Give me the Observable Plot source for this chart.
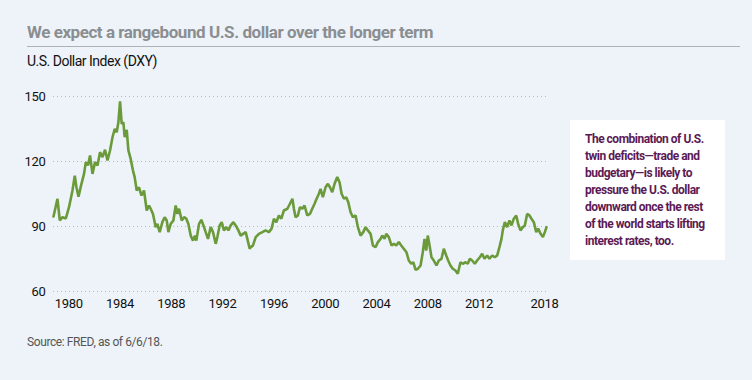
<!DOCTYPE html>
<html>
<head>
<meta charset="utf-8">
<script src="https://cdn.jsdelivr.net/npm/d3@7"></script>
<script src="https://cdn.jsdelivr.net/npm/@observablehq/plot@0.6"></script>
<style>
  html, body { margin: 0; padding: 0; }
  body { width: 752px; height: 380px; background: #edf3f9; position: relative; overflow: hidden;
         font-family: "Roboto", "Open Sans", sans-serif; }
  #title { position: absolute; left: 27px; top: 22px; font-size: 17px; font-weight: bold; color: #8b8e91; white-space: nowrap; letter-spacing: -0.45px; }
  #rule { position: absolute; left: 27px; top: 46px; width: 713px; height: 1px; background: #aeb2b6; }
  #subtitle { position: absolute; left: 27px; top: 53px; font-size: 14px; color: #111; white-space: nowrap; letter-spacing: -0.5px; }
  #chart { position: absolute; left: 0; top: 80px; }
  #note { position: absolute; left: 570px; top: 120px; width: 155px; height: 140px; background: #fff;
          box-sizing: border-box; padding: 11px 0 0 15px; color: #5c1a55; font-weight: bold; font-size: 12px; line-height: 17px; white-space: nowrap; letter-spacing: -0.5px; }
  #source { position: absolute; left: 27px; top: 335px; font-size: 12px; color: #555; white-space: nowrap; letter-spacing: -0.4px; }
</style>
</head>
<body>
<div id="title"></div>
<div id="rule"></div>
<div id="subtitle"></div>
<div id="chart"></div>
<div id="note"></div>
<div id="source"></div>
<script>
const titleText = "We expect a rangebound U.S. dollar over the longer term";
const subtitleText = "U.S. Dollar Index (DXY)";
const noteLines = ["The combination of U.S.", "twin deficits\u2014trade and", "budgetary\u2014is likely to", "pressure the U.S. dollar", "downward once the rest", "of the world starts lifting", "interest rates, too."];
const sourceText = "Source: FRED, as of 6/6/18.";

// Decimal year positions (as laid out on the reference axis) and index values
const years = [1978.81,1979.12,1979.30,1979.51,1979.77,1980.02,1980.29,1980.47,1980.60,1980.76,1980.99,1981.19,1981.33,1981.50,1981.66,1981.85,1982.05,1982.24,1982.44,1982.63,1982.83,1983.02,1983.22,1983.41,1983.59,1983.74,1983.87,1984.00,1984.13,1984.26,1984.36,1984.52,1984.65,1984.83,1985.01,1985.14,1985.30,1985.48,1985.67,1985.87,1986.08,1986.26,
1986.39,1986.57,1986.78,1986.91,1987.09,1987.30,1987.48,1987.64,1987.77,1987.95,1988.16,1988.34,1988.47,1988.60,1988.81,1988.99,1989.17,1989.33,1989.51,1989.69,1989.84,1989.95,1990.16,1990.34,1990.55,1990.68,1990.86,1991.07,1991.25,1991.46,1991.59,1991.77,1991.93,1992.10,1992.29,1992.45,1992.63,1992.84,1993.02,1993.23,1993.41,1993.59,1993.80,1993.93,1994.11,
1994.19,1994.36,1994.58,1994.83,1995.10,1995.35,1995.61,1995.82,1996.00,1996.19,1996.39,1996.58,1996.78,1997.05,1997.25,1997.44,1997.56,1997.69,1997.87,1998.03,1998.22,1998.39,1998.60,1998.81,1998.99,1999.17,1999.33,1999.51,1999.64,1999.82,2000.03,2000.21,2000.37,2000.55,2000.73,2000.94,2001.12,2001.28,2001.46,2001.64,
2001.80,2001.98,2002.16,2002.37,2002.55,2002.76,2002.97,2003.15,2003.33,2003.54,2003.72,2003.93,2004.11,2004.32,2004.45,2004.63,2004.76,2004.96,2005.18,2005.36,2005.54,2005.74,2005.93,2006.13,2006.34,2006.52,2006.71,2006.87,2007.05,2007.23,2007.44,2007.61,2007.75,2007.88,2008.00,2008.14,2008.29,2008.47,2008.68,2008.86,2009.07,2009.25,2009.44,
2009.59,2009.77,2009.95,2010.16,2010.34,2010.55,2010.73,2010.94,2011.12,2011.28,2011.46,2011.67,2011.85,2012.06,2012.24,2012.42,2012.63,2012.81,2013.02,2013.23,2013.41,2013.59,2013.75,2013.85,2014.01,2014.19,2014.37,2014.53,2014.71,2014.90,2015.05,2015.23,2015.41,2015.57,2015.75,2015.93,2016.09,2016.27,2016.46,2016.61,2016.80,2016.98,2017.13,2017.26];
const dxy = [94.6,102.8,92.8,94.3,93.7,98.9,106.6,113.5,108.1,103.8,109.7,114.3,119.7,118.2,122.8,114.3,119.7,118.2,124.3,122.0,125.4,120.5,125.1,131.2,135.1,133.5,138.1,147.8,137.4,138.1,131.2,134.6,125.1,121.2,115.8,112.8,106.6,108.1,104.3,106.6,97.4,99.7,
98.2,95.8,89.7,91.2,87.4,92.0,94.3,92.8,87.4,91.2,92.8,99.7,95.8,98.2,92.8,94.3,93.6,91.2,85.8,83.5,85.8,83.5,91.2,93.1,89.7,87.4,84.3,89.7,87.4,82.0,85.1,90.5,92.0,88.2,89.7,88.2,90.5,92.0,90.5,88.2,85.8,86.6,87.4,84.3,79.7,
80.5,81.2,85.1,86.6,87.4,88.2,87.4,89.0,93.6,92.0,95.1,93.6,97.4,98.2,100.5,102.8,98.2,94.3,95.1,98.9,98.2,99.7,95.1,95.8,98.2,100.5,102.8,105.1,107.4,103.5,108.1,109.7,108.1,105.8,109.7,112.8,110.4,105.1,102.8,103.5,
101.2,96.6,94.3,95.1,89.7,85.8,87.4,89.7,88.2,86.6,81.2,80.5,82.8,84.3,85.8,84.3,86.6,85.1,81.2,82.0,81.2,82.8,81.2,79.7,78.1,74.3,72.8,73.5,70.0,70.5,72.0,78.1,84.3,78.9,85.8,81.2,75.8,74.3,72.0,74.3,75.1,79.7,76.6,
74.3,72.0,70.5,69.7,68.2,73.5,72.8,73.5,72.8,75.1,74.3,72.8,74.3,75.8,77.4,75.1,76.6,75.1,76.6,75.8,76.6,80.5,84.3,88.2,92.0,89.7,92.8,90.5,93.6,95.1,91.2,88.2,89.7,90.5,95.8,95.1,93.6,92.0,87.4,89.0,86.6,85.1,87.4,89.7];

const yTicks = [60, 90, 120, 150];
const xTickValues = [1980, 1984, 1988, 1992, 1996, 2000, 2004, 2008, 2012, 2017.1];
const xTickLabels = ["1980", "1984", "1988", "1992", "1996", "2000", "2004", "2008", "2012", "2018"];

document.getElementById("title").textContent = titleText;
document.getElementById("subtitle").textContent = subtitleText;
document.getElementById("source").textContent = sourceText;
document.getElementById("note").innerHTML = noteLines.map(s => s.replace(/&/g, "&amp;")).join("<br>");

const data = years.map((y, i) => ({year: y, value: dxy[i]}));

const chart = Plot.plot({
  width: 752,
  height: 240,
  marginLeft: 53,
  marginRight: 206,
  marginTop: 16,
  marginBottom: 29,
  style: {background: "transparent", fontFamily: "Roboto, sans-serif", fontSize: "13px", color: "#111", overflow: "visible", letterSpacing: "-0.3px"},
  x: {domain: [years[0], years[years.length - 1]]},
  y: {domain: [60, 150]},
  marks: [
    Plot.ruleY(yTicks, {stroke: "#b5bac0", strokeWidth: 1, strokeDasharray: "1,3"}),
    Plot.axisY({ticks: yTicks, tickSize: 0, tickPadding: 8, label: null, fontSize: 13}),
    Plot.axisX({ticks: xTickValues, tickSize: 0, tickPadding: 7, label: null, fontSize: 13,
      tickFormat: d => xTickLabels[xTickValues.indexOf(d)]}),
    Plot.line(data, {x: "year", y: "value", stroke: "#6b9a3a", strokeWidth: 2.6, strokeLinejoin: "miter", curve: "linear"})
  ]
});
document.getElementById("chart").appendChild(chart);
</script>
</body>
</html>
